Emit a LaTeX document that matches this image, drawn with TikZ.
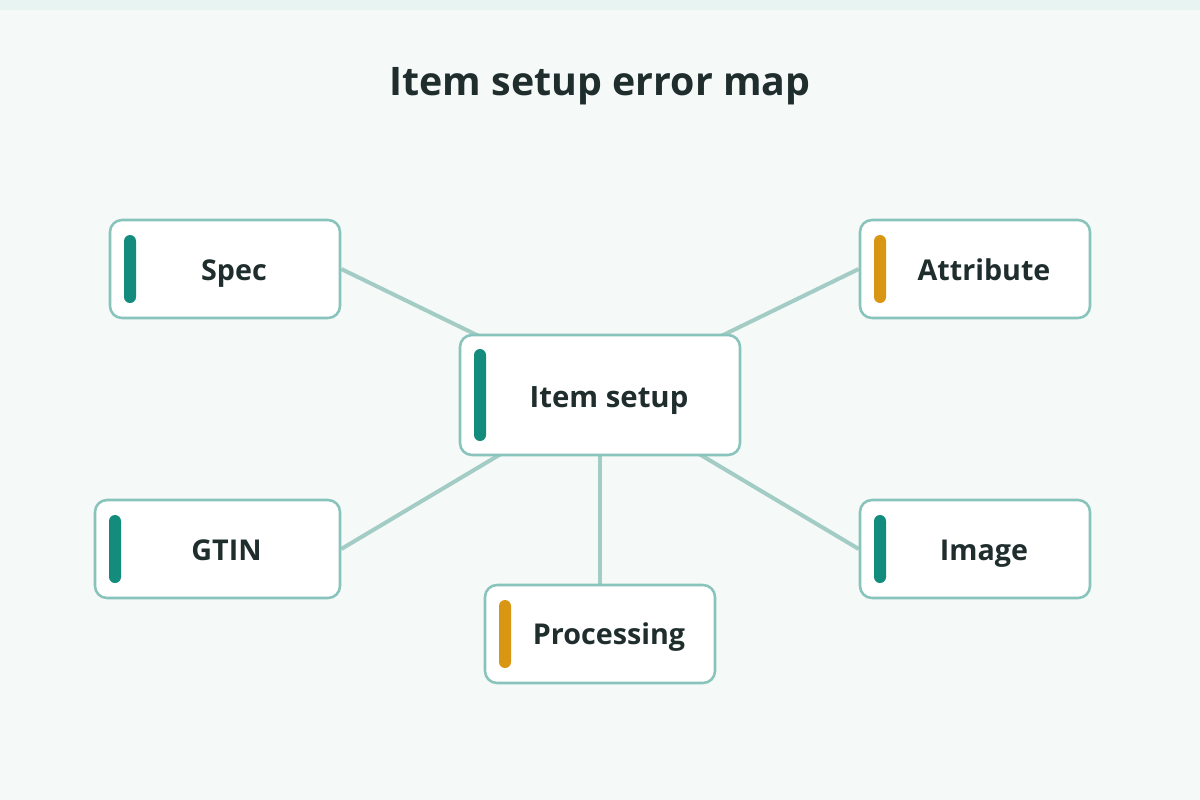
\documentclass[tikz,border=0pt]{standalone}
\usepackage{fontspec}
\setmainfont{Open Sans}
\usetikzlibrary{positioning}
\definecolor{pagebg}{HTML}{F5F9F8}
\definecolor{topbar}{HTML}{E8F4F2}
\definecolor{titlec}{HTML}{1F2D2D}
\definecolor{edgec}{HTML}{A3CCC4}
\definecolor{borderc}{HTML}{88C4BB}
\definecolor{tealc}{HTML}{138C7E}
\definecolor{orangec}{HTML}{D99613}
\pgfdeclarelayer{back}
\pgfdeclarelayer{edges}
\pgfsetlayers{back,edges,main}
\tikzset{
  box/.style={draw=borderc, fill=white, line width=1.9pt, rounded corners=9pt, inner sep=0pt},
  sbox/.style={box, minimum width=172.5pt, minimum height=73.5pt},
  bar/.style={rounded corners=4.5pt, inner sep=0pt, minimum width=9pt, minimum height=51pt, fill=#1},
  lbl/.style={font=\bfseries\fontsize{21.5}{24}\selectfont, text=titlec, inner sep=0pt, anchor=base},
  edge/.style={draw=edgec, line width=3pt},
}
\begin{document}
\begin{tikzpicture}[x=0.75pt,y=-0.75pt]
\begin{pgfonlayer}{back}
\fill[pagebg] (0,0) rectangle (1200,800);
\fill[topbar] (0,0) rectangle (1200,10);
\end{pgfonlayer}
\useasboundingbox (0,0) rectangle (1200,800);

\node[font=\bfseries\fontsize{29.5}{34}\selectfont, text=titlec, anchor=base, inner sep=0pt] (title) at (600,95) {Item setup error map};

% hub
\node[box, minimum width=210pt, minimum height=90pt] (hub) at (600,395) {};
\node[bar=tealc, minimum height=69pt] (hubbar) at (480,395) {};
\node[lbl, font=\bfseries\fontsize{22}{25}\selectfont] (hubt) at (609,407) {Item setup};

% spec
\node[sbox] (spec) at (225,269) {};
\node[bar=tealc] (specbar) at (130,269) {};
\node[lbl] (spect) at (234,280) {Spec};

% attribute
\node[sbox] (attr) at (975,269) {};
\node[bar=orangec] (attrbar) at (880,269) {};
\node[lbl] (attrt) at (984,280) {Attribute};

% gtin
\node[box, minimum width=183.75pt, minimum height=73.5pt] (gtin) at (217.5,549) {};
\node[bar=tealc] (gtinbar) at (115,549) {};
\node[lbl] (gtint) at (226.5,560) {GTIN};

% image
\node[sbox] (image) at (975,549) {};
\node[bar=tealc] (imagebar) at (880,549) {};
\node[lbl] (imaget) at (984,560) {Image};

% processing
\node[sbox] (proc) at (600,634) {};
\node[bar=orangec] (procbar) at (505,634) {};
\node[lbl] (proct) at (609,644) {Processing};

\begin{pgfonlayer}{edges}
\draw[edge] (spec.east) -- (hub.center);
\draw[edge] (attr.west) -- (hub.center);
\draw[edge] (gtin.east) -- (hub.center);
\draw[edge] (image.west) -- (hub.center);
\draw[edge] (proc.north) -- (hub.center);
\end{pgfonlayer}
\end{tikzpicture}
\end{document}
